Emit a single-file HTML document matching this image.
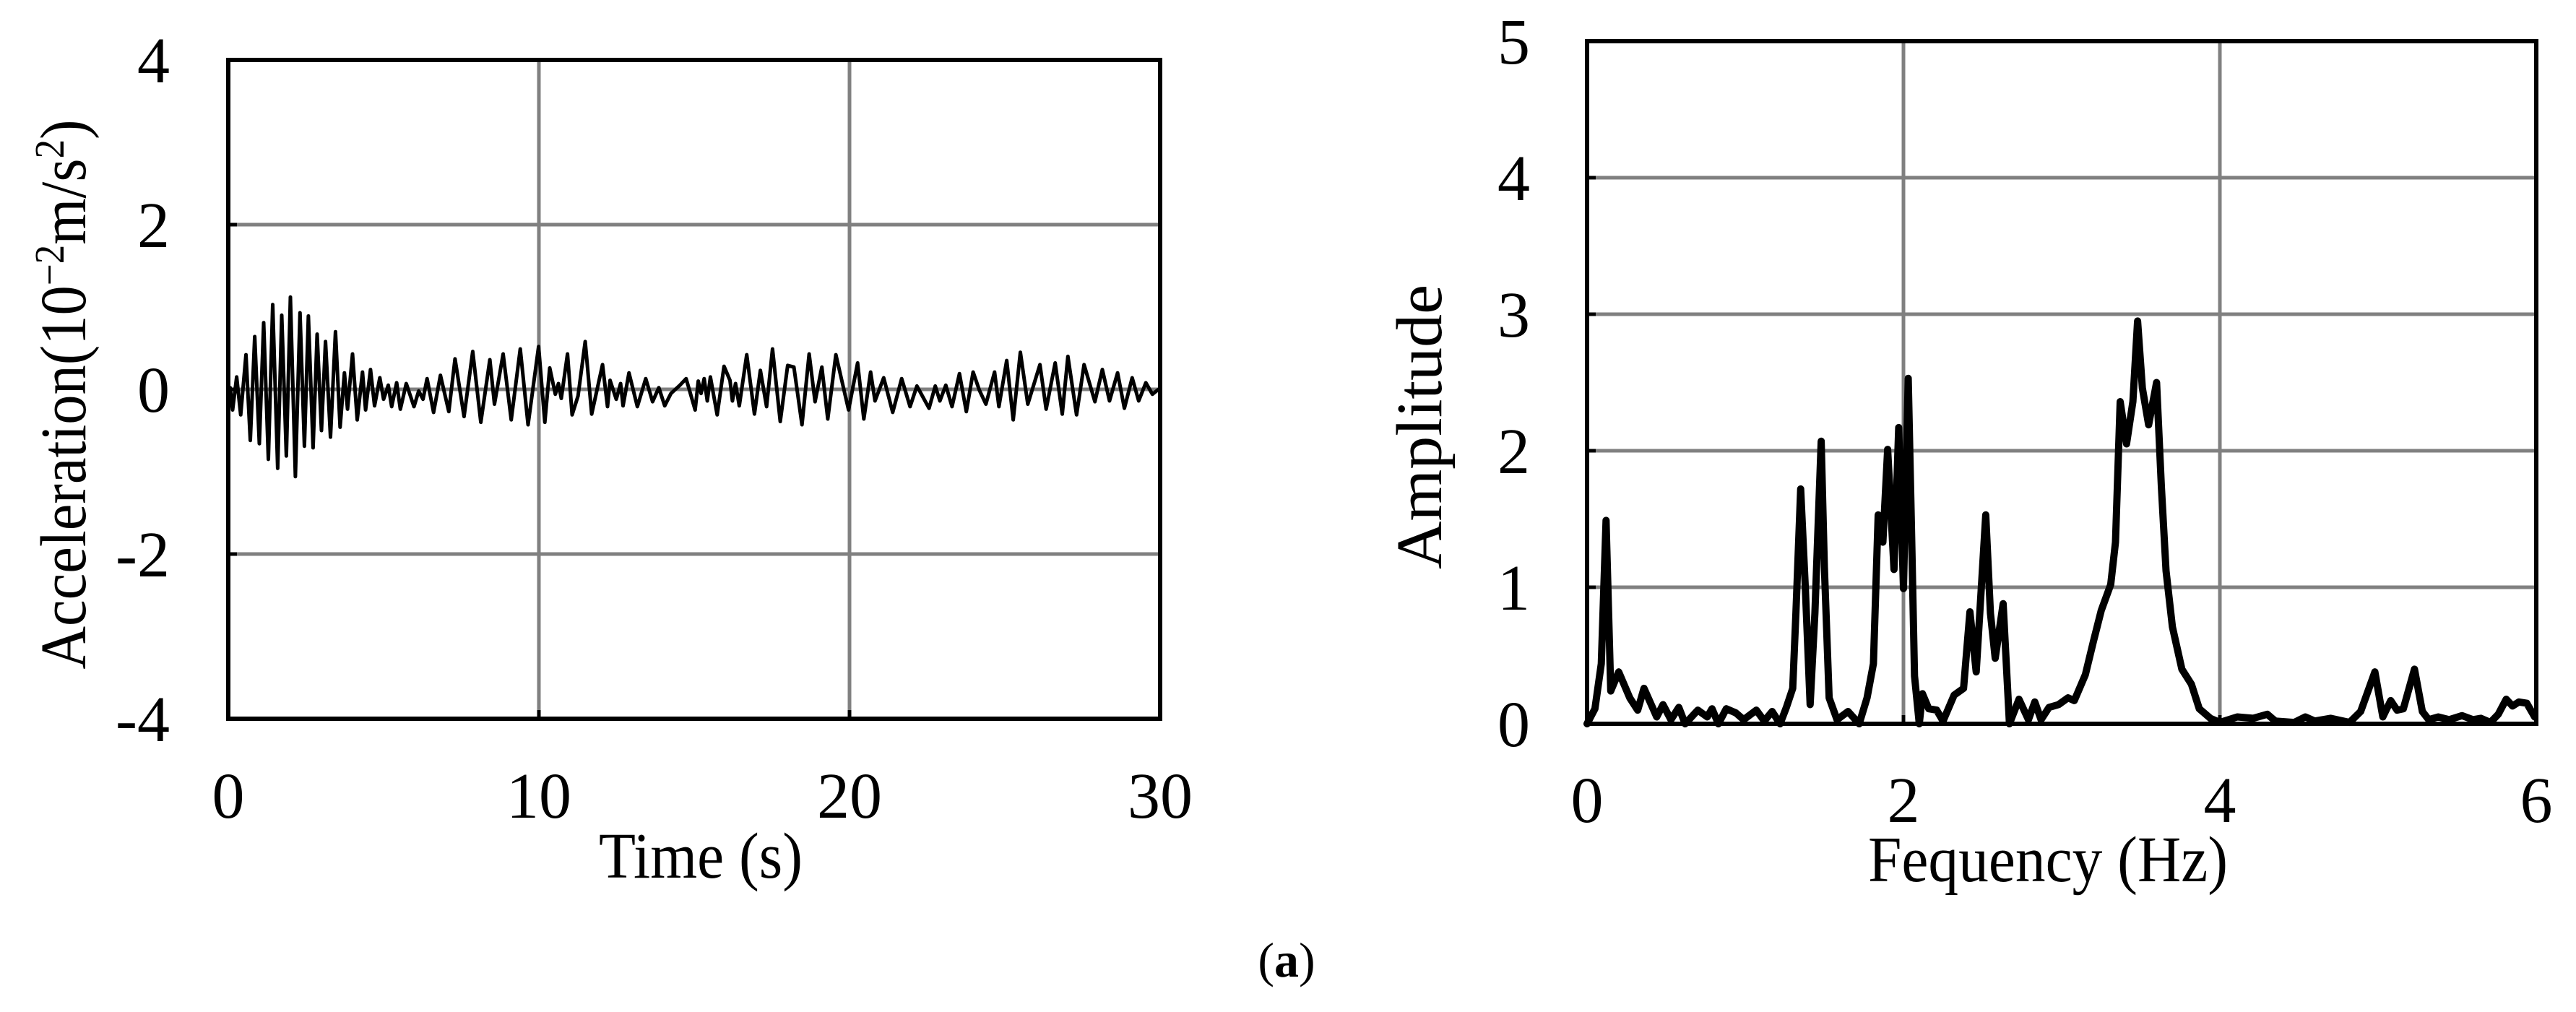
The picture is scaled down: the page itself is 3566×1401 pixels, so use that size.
<!DOCTYPE html>
<html><head><meta charset="utf-8"><style>
html,body{margin:0;padding:0;background:#fff;}
svg{display:block;}
text{font-family:"Liberation Serif",serif;fill:#000;}
</style></head><body>
<svg id="fig" width="3566" height="1401" viewBox="0 0 3566 1401" xmlns="http://www.w3.org/2000/svg">
<rect width="3566" height="1401" fill="#fff"/>
<g id="left"></g>
<g id="right"></g>
<text x="1781" y="1352" font-size="68" text-anchor="middle">(<tspan font-weight="bold">a</tspan>)</text>
</svg>
<script>
// Acceleration time history (extrema)
const accTimes = [0,0.06,0.14,0.27,0.40,0.57,0.71,0.85,1.00,1.14,1.29,1.43,1.59,1.72,1.87,2.00,2.16,2.31,2.45,2.58,2.73,2.86,3.00,3.13,3.29,3.45,3.60,3.74,3.84,4.00,4.15,4.32,4.42,4.58,4.71,4.88,5.00,5.15,5.26,5.42,5.54,5.73,5.98,6.13,6.27,6.40,6.61,6.83,7.10,7.30,7.59,7.87,8.13,8.42,8.57,8.85,9.11,9.40,9.65,9.99,10.19,10.35,10.53,10.63,10.72,10.92,11.07,11.26,11.49,11.70,12.05,12.21,12.29,12.49,12.63,12.71,12.90,13.17,13.44,13.66,13.86,14.05,14.25,14.54,14.74,15.03,15.13,15.22,15.32,15.42,15.52,15.74,15.96,16.15,16.23,16.33,16.45,16.69,16.94,17.13,17.33,17.52,17.77,18.01,18.21,18.47,18.70,18.89,19.11,19.30,19.56,19.97,20.26,20.46,20.68,20.82,21.10,21.39,21.68,21.95,22.17,22.56,22.76,22.91,23.10,23.30,23.54,23.76,23.98,24.18,24.39,24.67,24.81,25.06,25.27,25.50,25.74,26.13,26.33,26.62,26.85,27.03,27.31,27.55,27.90,28.14,28.37,28.63,28.85,29.10,29.31,29.54,29.75,29.98];
const accValues = [0,0.02,-0.25,0.15,-0.31,0.42,-0.62,0.64,-0.66,0.81,-0.85,1.03,-0.96,0.90,-0.81,1.12,-1.06,0.93,-0.69,0.89,-0.71,0.67,-0.50,0.58,-0.58,0.70,-0.46,0.20,-0.24,0.43,-0.37,0.21,-0.25,0.24,-0.20,0.14,-0.12,0.05,-0.21,0.08,-0.24,0.07,-0.21,-0.02,-0.12,0.13,-0.28,0.17,-0.27,0.37,-0.33,0.46,-0.40,0.36,-0.18,0.43,-0.37,0.49,-0.43,0.52,-0.40,0.26,-0.06,0.07,-0.11,0.43,-0.31,-0.08,0.58,-0.30,0.30,-0.21,0.11,-0.12,0.07,-0.20,0.20,-0.21,0.13,-0.15,0.02,-0.20,-0.05,0.05,0.13,-0.25,0.10,-0.05,0.13,-0.14,0.15,-0.31,0.28,0.11,-0.14,0.07,-0.20,0.42,-0.30,0.23,-0.21,0.49,-0.39,0.29,0.27,-0.43,0.43,-0.15,0.27,-0.36,0.42,-0.25,0.32,-0.36,0.21,-0.14,0.14,-0.28,0.13,-0.21,0.04,-0.23,0.04,-0.14,0.05,-0.21,0.19,-0.27,0.21,-0.01,-0.18,0.21,-0.21,0.35,-0.37,0.45,-0.18,0.30,-0.24,0.32,-0.30,0.40,-0.31,0.30,-0.15,0.24,-0.14,0.20,-0.23,0.14,-0.14,0.08,-0.06,0.01];
const accXTicks = [0,10,20,30];
const accYTicks = [4,2,0,-2,-4];
const accYTickLabels = ["4","2","0","-2","-4"];

// Fourier amplitude spectrum
const freqs = [0,0.05,0.09,0.12,0.15,0.20,0.27,0.32,0.36,0.44,0.48,0.53,0.58,0.62,0.70,0.76,0.79,0.83,0.88,0.94,0.99,1.07,1.12,1.17,1.22,1.26,1.30,1.32,1.35,1.38,1.41,1.44,1.48,1.50,1.53,1.58,1.65,1.72,1.77,1.81,1.84,1.87,1.90,1.94,1.97,2.00,2.03,2.05,2.07,2.10,2.12,2.16,2.21,2.25,2.32,2.38,2.42,2.46,2.52,2.55,2.58,2.63,2.67,2.73,2.79,2.83,2.87,2.92,2.98,3.04,3.08,3.15,3.20,3.25,3.31,3.34,3.37,3.41,3.45,3.48,3.51,3.55,3.60,3.63,3.66,3.70,3.76,3.82,3.87,3.94,4.00,4.11,4.21,4.30,4.35,4.47,4.54,4.60,4.70,4.82,4.89,4.98,5.03,5.08,5.12,5.16,5.23,5.28,5.32,5.38,5.45,5.53,5.60,5.65,5.71,5.76,5.81,5.85,5.89,5.94,5.99];
const amps = [0,0.11,0.44,1.49,0.24,0.38,0.19,0.10,0.26,0.05,0.14,0.03,0.12,0.0,0.10,0.05,0.11,0.0,0.11,0.08,0.03,0.10,0.02,0.09,0.0,0.12,0.26,0.81,1.72,0.99,0.14,0.81,2.07,1.15,0.19,0.03,0.09,0.0,0.19,0.44,1.53,1.33,2.01,1.13,2.17,0.99,2.53,1.48,0.35,0.0,0.22,0.11,0.10,0.02,0.21,0.26,0.82,0.38,1.53,0.81,0.48,0.88,0.0,0.18,0.03,0.16,0.03,0.12,0.14,0.19,0.17,0.36,0.60,0.83,1.02,1.33,2.36,2.05,2.36,2.95,2.46,2.19,2.50,1.74,1.12,0.71,0.40,0.29,0.11,0.04,0.01,0.05,0.04,0.07,0.02,0.01,0.05,0.02,0.04,0.01,0.09,0.38,0.05,0.17,0.10,0.11,0.40,0.09,0.03,0.05,0.03,0.06,0.03,0.04,0.01,0.07,0.18,0.13,0.16,0.15,0.05];
const specXTicks = [0,2,4,6];
const specYTicks = [0,1,2,3,4,5];

const NS = "http://www.w3.org/2000/svg";
function mk(parent, tag, attrs, txt){
  const e = document.createElementNS(NS, tag);
  for (const k in attrs) e.setAttribute(k, attrs[k]);
  if (txt !== undefined) e.textContent = txt;
  parent.appendChild(e);
  return e;
}

function drawChart(g, cfg){
  const sx = v => cfg.x0 + (v - cfg.xmin) / (cfg.xmax - cfg.xmin) * (cfg.x1 - cfg.x0);
  const sy = v => cfg.y1 - (v - cfg.ymin) / (cfg.ymax - cfg.ymin) * (cfg.y1 - cfg.y0);
  cfg.yTicks.forEach(v => {
    if (v === cfg.ymin || v === cfg.ymax) return;
    const l = mk(g, 'line', {x1:cfg.x0, x2:cfg.x1, y1:sy(v), y2:sy(v), stroke:'#808080', 'stroke-width':5});
    
    
    const t = mk(g, 'line', {x1:cfg.x0, x2:cfg.x0+12, y1:sy(v), y2:sy(v), stroke:'#000', 'stroke-width':5});
    
    
  });
  cfg.xTicks.forEach(v => {
    if (v === cfg.xmin || v === cfg.xmax) return;
    const l = mk(g, 'line', {x1:sx(v), x2:sx(v), y1:cfg.y0, y2:cfg.y1, stroke:'#808080', 'stroke-width':5});
    
    
    const t = mk(g, 'line', {x1:sx(v), x2:sx(v), y1:cfg.y1-12, y2:cfg.y1, stroke:'#000', 'stroke-width':5});
    
    
  });
  let d = '';
  cfg.xs.forEach((x,i) => { d += (i ? 'L' : 'M') + sx(x).toFixed(1) + ' ' + sy(cfg.ys[i]).toFixed(1); });
  const p = mk(g, 'path', {d:d, fill:'none', stroke:'#000', 'stroke-width':cfg.lw, 'stroke-linejoin':'round', 'stroke-linecap':'round'});
  
  
  const f = mk(g, 'rect', {x:cfg.x0, y:cfg.y0, width:cfg.x1-cfg.x0, height:cfg.y1-cfg.y0, fill:'none', stroke:'#000', 'stroke-width':6});
  
  
  cfg.yTicks.forEach((v,i) => {
    const t = mk(g, 'text', {x:cfg.yLabelX, y:sy(v)+31, 'font-size':90, 'text-anchor':'end'}, cfg.yLabels[i]);
    
    
  });
  cfg.xTicks.forEach(v => {
    const t = mk(g, 'text', {x:sx(v), y:cfg.xLabelY, 'font-size':90, 'text-anchor':'middle'}, String(v));
    
    
  });
}

const left = document.getElementById('left');
drawChart(left, {x0:316, x1:1606, y0:83, y1:995, xmin:0, xmax:30, ymin:-4, ymax:4,
  xTicks:accXTicks, yTicks:accYTicks, yLabels:accYTickLabels, xs:accTimes, ys:accValues,
  lw:5, seriesName:'acceleration-line', yLabelX:235, xLabelY:1132});
const xt1 = mk(left, 'text', {x:970, y:1215, 'font-size':90, 'text-anchor':'middle', textLength:282, lengthAdjust:'spacingAndGlyphs'}, 'Time (s)');


const yt1 = mk(left, 'text', {x:0, y:0, 'font-size':90, 'text-anchor':'middle', transform:'translate(118,546) rotate(-90)', textLength:761, lengthAdjust:'spacingAndGlyphs'});
yt1.innerHTML = 'Acceleration(10<tspan font-size="58" dy="-30">−2</tspan><tspan dy="30">m/s</tspan><tspan font-size="58" dy="-30">2</tspan><tspan dy="30">)</tspan>';



const right = document.getElementById('right');
drawChart(right, {x0:2197, x1:3511, y0:57, y1:1002, xmin:0, xmax:6, ymin:0, ymax:5,
  xTicks:specXTicks, yTicks:specYTicks, yLabels:specYTicks.map(String), xs:freqs, ys:amps,
  lw:10, seriesName:'amplitude-line', yLabelX:2118, xLabelY:1138});
const xt2 = mk(right, 'text', {x:2835, y:1220, 'font-size':90, 'text-anchor':'middle', textLength:498, lengthAdjust:'spacingAndGlyphs'}, 'Fequency (Hz)');


const yt2 = mk(right, 'text', {x:0, y:0, 'font-size':90, 'text-anchor':'middle', transform:'translate(1995,591) rotate(-90)', textLength:394, lengthAdjust:'spacingAndGlyphs'}, 'Amplitude');


</script>
</body></html>
